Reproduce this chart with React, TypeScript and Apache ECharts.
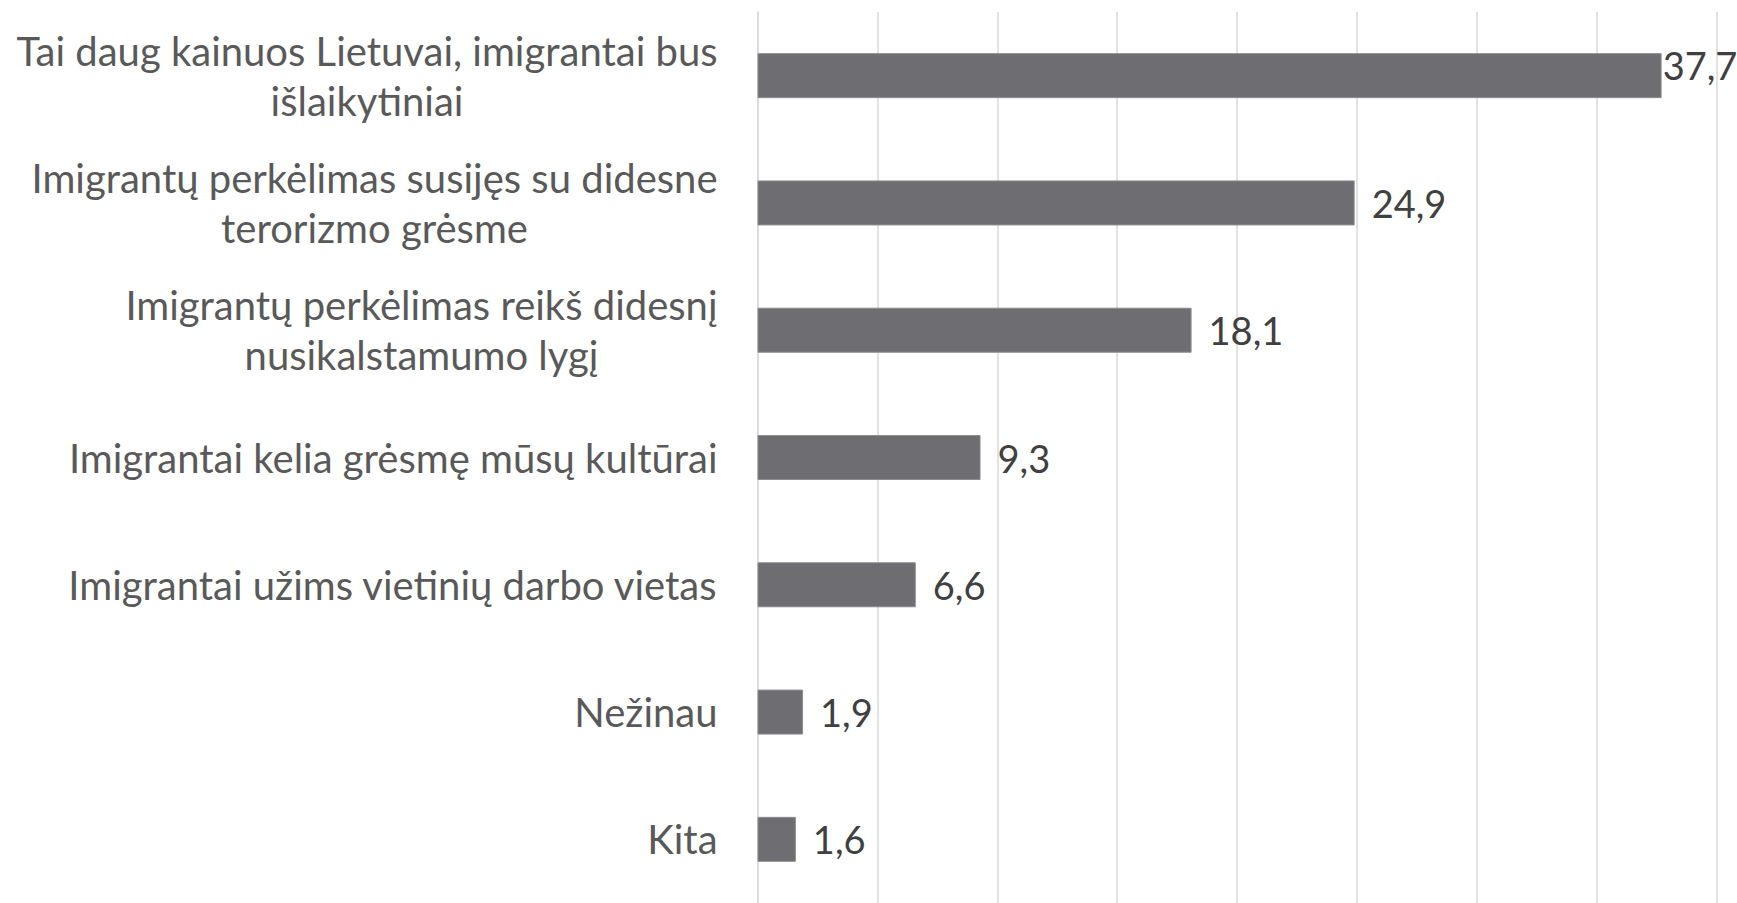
import React, { useEffect, useRef } from "react";
import * as echarts from "echarts";

const categories = [
  "Tai daug kainuos Lietuvai, imigrantai bus\nišlaikytiniai",
  "Imigrantų perkėlimas susijęs su didesne\nterorizmo grėsme",
  "Imigrantų perkėlimas reikš didesnį\nnusikalstamumo lygį",
  "Imigrantai kelia grėsmę mūsų kultūrai",
  "Imigrantai užims vietinių darbo vietas",
  "Nežinau",
  "Kita",
];
const values = [37.7, 24.9, 18.1, 9.3, 6.6, 1.9, 1.6];

const FONT = "Lato";

export default function App() {
  const ref = useRef<HTMLDivElement>(null);
  useEffect(() => {
    document.body.style.margin = "0";
    if (!ref.current) return;
    const chart = echarts.init(ref.current, undefined, { renderer: "svg" });
    chart.setOption({
      animation: false,
      backgroundColor: "#ffffff",
      grid: { left: 757.5, right: 20.2, top: 12, bottom: -5, containLabel: false },
      xAxis: {
        type: "value",
        min: 0,
        max: 40,
        interval: 5,
        axisLabel: { show: false },
        axisTick: { show: false },
        axisLine: { show: false },
        splitLine: { show: true, lineStyle: { color: "#d9d9d9", width: 1.5 } },
      },
      yAxis: {
        type: "category",
        inverse: true,
        data: categories,
        axisTick: { show: false },
        axisLine: { show: true, lineStyle: { color: "#d9d9d9", width: 1.5 } },
        axisLabel: {
          margin: 40,
          fontFamily: FONT,
          fontSize: 40,
          color: "#595959",
          lineHeight: 50,
          formatter: (v: string) =>
            v
              .split("\n")
              .map((l) => "{c|" + l + "}")
              .join("\n"),
          rich: {
            c: {
              align: "center",
              fontFamily: FONT,
              fontSize: 40,
              color: "#595959",
              lineHeight: 50,
            },
          },
        },
      },
      series: [
        {
          type: "bar",
          barWidth: 45,
          data: values.map((v, i) =>
            i === 0 ? { value: v, label: { distance: 1, offset: [0, -11] } } : v
          ),
          itemStyle: { color: "#6e6d72", borderColor: "#8c8c90", borderWidth: 1 },
          label: {
            show: true,
            position: "right",
            distance: 17,
            fontFamily: FONT,
            fontSize: 38,
            color: "#404040",
            formatter: (p: any) => p.value.toFixed(1).replace(".", ","),
          },
        },
      ],
    });
    return () => chart.dispose();
  }, []);
  return <div ref={ref} style={{ width: 1737, height: 903 }} />;
}
